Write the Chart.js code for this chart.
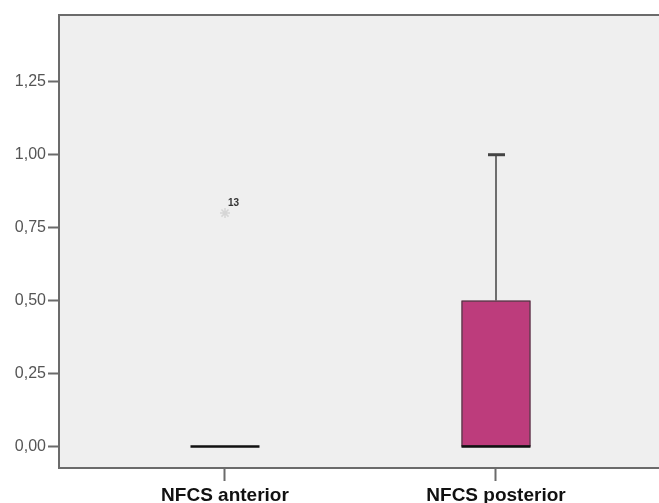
<!DOCTYPE html>
<html>
<head>
<meta charset="utf-8">
<script src="https://cdn.jsdelivr.net/npm/chart.js@4/dist/chart.umd.min.js"></script>
<style>
  html, body { margin: 0; padding: 0; background: #fff; overflow: hidden; }
  #chart { display: block; }
</style>
</head>
<body>
<canvas id="chart" width="659" height="503"></canvas>
<script>
// --- Data ---
const categories = ['NFCS anterior', 'NFCS posterior'];
const catPos = [1, 2];
const q1 = [0, 0];
const median = [0, 0];
const q3 = [0, 0.5];
const whiskerLow = [0, 0];
const whiskerHigh = [0, 1.0];
const outlierValues = [0.8];
const outlierCats = [1];
const outlierLabels = ['13'];
const yTicks = [0, 0.25, 0.5, 0.75, 1.0, 1.25];

// --- Box plot drawing plugin (uses chart scales) ---
const boxPlugin = {
  id: 'boxPlugin',
  beforeDraw(chart) {
    const { ctx, chartArea: a } = chart;
    ctx.save();
    ctx.fillStyle = '#efefef';
    ctx.fillRect(a.left, a.top, a.right - a.left, a.bottom - a.top);
    // top frame line
    ctx.strokeStyle = '#6b6b6b';
    ctx.lineWidth = 2;
    ctx.beginPath();
    ctx.moveTo(a.left - 1, a.top);
    ctx.lineTo(a.right, a.top);
    ctx.stroke();
    ctx.restore();
  },
  afterDatasetsDraw(chart) {
    const { ctx, scales: { x, y } } = chart;
    const half = 34.5;
    ctx.save();
    categories.forEach((c, i) => {
      const cx = x.getPixelForValue(catPos[i]);
      const yQ1 = y.getPixelForValue(q1[i]);
      const yQ3 = y.getPixelForValue(q3[i]);
      const yMed = y.getPixelForValue(median[i]);
      const yHi = y.getPixelForValue(whiskerHigh[i]);
      const yLo = y.getPixelForValue(whiskerLow[i]);

      // whiskers
      if (whiskerHigh[i] > q3[i]) {
        ctx.strokeStyle = '#6e6e6e';
        ctx.lineWidth = 2;
        ctx.beginPath();
        ctx.moveTo(cx, yQ3);
        ctx.lineTo(cx, yHi);
        ctx.stroke();
        ctx.strokeStyle = '#444';
        ctx.lineWidth = 3;
        ctx.beginPath();
        ctx.moveTo(cx - 8, yHi);
        ctx.lineTo(cx + 9, yHi);
        ctx.stroke();
      }
      if (whiskerLow[i] < q1[i]) {
        ctx.strokeStyle = '#6e6e6e';
        ctx.lineWidth = 2;
        ctx.beginPath();
        ctx.moveTo(cx, yQ1);
        ctx.lineTo(cx, yLo);
        ctx.stroke();
      }

      // box
      if (q3[i] > q1[i]) {
        ctx.fillStyle = '#bd3c7c';
        ctx.fillRect(cx - half, yQ3, half * 2, yQ1 - yQ3);
        ctx.strokeStyle = '#3a3a3a';
        ctx.lineWidth = 1;
        ctx.strokeRect(cx - half + 0.5, yQ3 + 0.5, half * 2 - 1, yQ1 - yQ3 - 1);
      }

      // median
      ctx.strokeStyle = '#111';
      ctx.lineWidth = 2.5;
      ctx.beginPath();
      ctx.moveTo(cx - half, yMed);
      ctx.lineTo(cx + half, yMed);
      ctx.stroke();
    });

    // outlier labels
    ctx.fillStyle = '#333';
    ctx.font = 'bold 10px "Liberation Sans", Arial, sans-serif';
    ctx.textAlign = 'left';
    ctx.textBaseline = 'middle';
    outlierValues.forEach((v, i) => {
      const px = x.getPixelForValue(outlierCats[i]);
      const py = y.getPixelForValue(v);
      ctx.fillText(outlierLabels[i], px + 3, py - 10);
    });
    ctx.restore();
  }
};

const ctx = document.getElementById('chart').getContext('2d');
new Chart(ctx, {
  type: 'scatter',
  data: {
    datasets: [{
      label: 'Outliers',
      data: outlierValues.map((v, i) => ({ x: outlierCats[i], y: v })),
      pointStyle: 'star',
      radius: 5,
      borderWidth: 1.5,
      borderColor: '#d6d6d6',
      backgroundColor: '#d6d6d6'
    }]
  },
  options: {
    responsive: false,
    animation: false,
    layout: { autoPadding: false, padding: { top: 15, right: 0, left: 0, bottom: 0 } },
    plugins: {
      legend: { display: false },
      tooltip: { enabled: false }
    },
    scales: {
      x: {
        type: 'linear',
        min: 0.3875,
        max: 2.6015,
        afterBuildTicks: (axis) => { axis.ticks = catPos.map(v => ({ value: v })); },
        afterFit: (axis) => { axis.height = 35; axis.paddingLeft = 0; axis.paddingRight = 0; },
        ticks: {
          callback: (v) => categories[catPos.indexOf(v)] || '',
          color: '#111',
          font: { family: '"Liberation Sans", Arial, sans-serif', size: 19, weight: 'bold' },
          padding: 3,
          maxRotation: 0
        },
        grid: { drawOnChartArea: false, tickLength: 13, color: '#6b6b6b', tickWidth: 2 },
        border: { color: '#6b6b6b', width: 2 }
      },
      y: {
        min: -0.074,
        max: 1.479,
        afterBuildTicks: (axis) => { axis.ticks = yTicks.map(v => ({ value: v })); },
        afterFit: (axis) => { axis.width = 59; },
        ticks: {
          callback: (v) => v.toFixed(2).replace('.', ','),
          color: '#555',
          font: { family: '"Liberation Sans", Arial, sans-serif', size: 16 },
          padding: 2
        },
        grid: { drawOnChartArea: false, tickLength: 11, color: '#6b6b6b', tickWidth: 2 },
        border: { color: '#6b6b6b', width: 2 }
      }
    }
  },
  plugins: [boxPlugin]
});
</script>
</body>
</html>
